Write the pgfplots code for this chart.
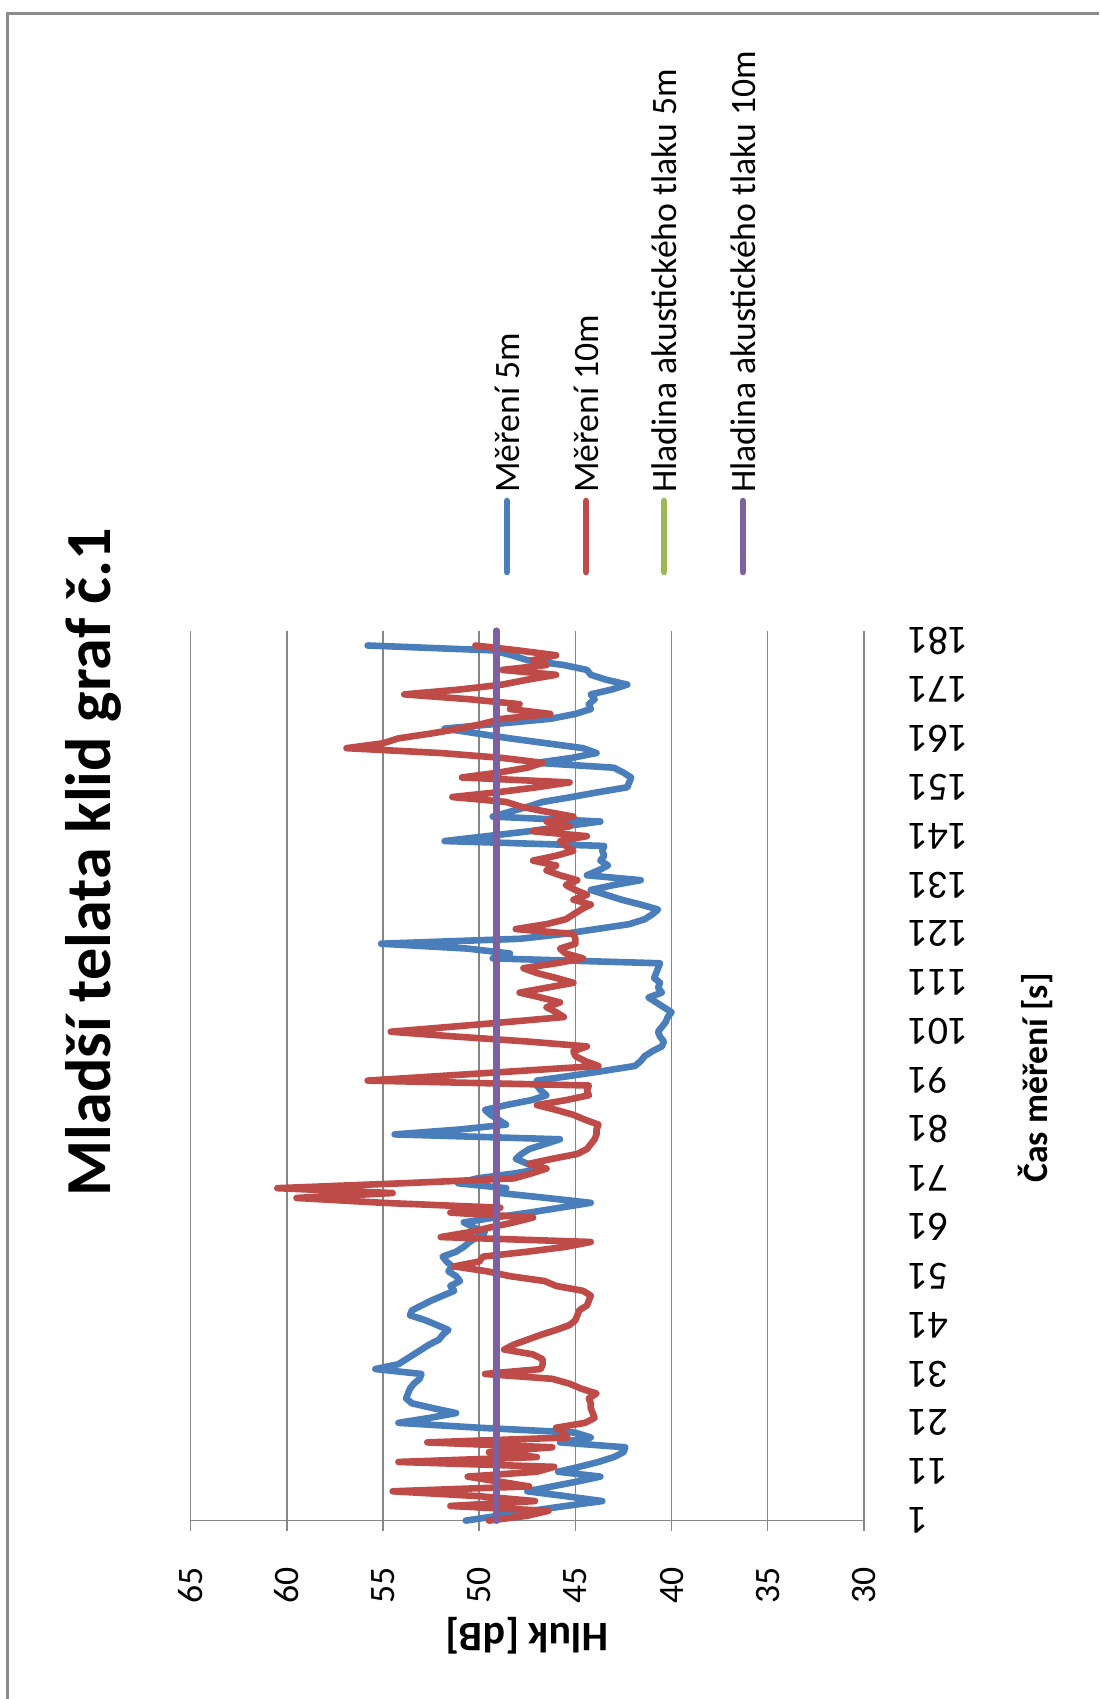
\documentclass[border=0pt]{standalone}
\usepackage{pgfplots}
\usepackage{pgfplotstable}
\pgfplotsset{compat=1.18}
\usepackage{fontspec}
\setmainfont{Carlito}

\definecolor{serA}{HTML}{4A7EBB}
\definecolor{serB}{HTML}{BE4B48}
\definecolor{serC}{HTML}{98B954}
\definecolor{serD}{HTML}{7D60A0}
\definecolor{gridgray}{HTML}{868686}
\definecolor{framegray}{HTML}{8C8C8C}

\newcommand\tenpt{\fontsize{17.85pt}{21pt}\selectfont}

% Měření 5m: time step, noise level [dB]
\pgfplotstableread{
t db
1 50.7
2 49.0
3 47.3
4 45.5
5 43.6
6 45.5
7 47.5
8 46.2
9 44.9
10 43.7
11 45.9
12 44.8
13 43.8
14 43.0
15 42.5
16 42.4
17 45.8
18 44.2
19 45.0
20 50.0
21 54.2
22 52.6
23 51.2
24 52.4
25 53.5
26 53.8
27 53.7
28 53.6
29 53.4
30 53.1
31 53.0
32 55.4
33 54.2
34 53.8
35 53.4
36 53.0
37 52.6
38 52.1
39 51.9
40 51.6
41 52.2
42 52.8
43 53.6
44 53.5
45 53.0
46 52.5
47 51.9
48 51.3
49 51.5
50 51.0
51 51.2
52 51.6
53 51.4
54 51.7
55 51.9
56 51.2
57 50.8
58 50.5
59 50.1
60 49.7
61 50.3
62 50.8
63 49.2
64 47.4
65 45.8
66 44.2
67 46.5
68 48.9
69 48.6
70 51.1
71 50.1
72 48.2
73 46.7
74 47.5
75 48.1
76 47.8
77 47.4
78 46.6
79 45.8
80 54.4
81 51.0
82 48.6
83 49.0
84 49.4
85 49.7
86 48.6
87 47.3
88 46.5
89 46.8
90 47.0
91 47.0
92 45.2
93 43.5
94 41.9
95 41.6
96 41.4
97 41.0
98 40.5
99 40.4
100 40.6
101 40.7
102 40.5
103 40.3
104 40.2
105 40.0
106 40.4
107 40.8
108 41.2
109 40.5
110 40.7
111 40.6
112 40.9
113 40.8
114 40.7
115 40.6
116 49.3
117 48.4
118 50.6
119 55.1
120 47.9
121 45.6
122 43.9
123 42.2
124 41.4
125 41.0
126 40.7
127 41.6
128 42.6
129 43.4
130 44.2
131 43.0
132 41.6
133 44.4
134 43.8
135 43.3
136 43.7
137 43.5
138 43.6
139 43.5
140 51.8
141 49.6
142 47.4
143 45.6
144 43.7
145 49.3
146 48.4
147 47.5
148 46.7
149 45.2
150 43.8
151 42.3
152 42.2
153 42.1
154 42.5
155 43.0
156 47.0
157 45.2
158 43.9
159 44.6
160 46.5
161 48.4
162 50.1
163 51.8
164 49.0
165 46.3
166 45.0
167 44.2
168 44.3
169 44.0
170 44.2
171 43.1
172 42.3
173 43.4
174 44.2
175 44.4
176 45.6
177 47.5
178 48.3
179 49.3
180 55.8
}\merenipet

% Měření 10m
\pgfplotstableread{
t db
1 49.5
2 47.5
3 46.4
4 51.5
5 47.1
6 50.0
7 54.5
8 47.4
9 49.0
10 50.6
11 47.0
12 46.1
13 54.2
14 47.0
15 49.5
16 46.2
17 52.7
18 45.4
19 45.6
20 46.0
21 44.5
22 44.0
23 44.1
24 44.2
25 44.2
26 44.3
27 43.9
28 44.7
29 45.3
30 46.2
31 49.7
32 46.8
33 46.7
34 46.7
35 47.2
36 48.7
37 48.2
38 47.5
39 46.8
40 46.0
41 45.3
42 45.0
43 44.9
44 44.8
45 44.4
46 44.3
47 44.2
48 44.6
49 46.0
50 46.6
51 48.4
52 49.6
53 51.3
54 50.0
55 49.8
56 47.5
57 45.5
58 44.2
59 52.0
60 50.5
61 49.4
62 48.2
63 47.2
64 51.5
65 48.9
66 55.0
67 59.5
68 54.5
69 60.5
70 54.0
71 48.2
72 47.3
73 46.5
74 47.4
75 46.2
76 44.9
77 44.4
78 44.2
79 44.0
80 43.9
81 43.9
82 43.8
83 44.5
84 45.1
85 46.0
86 47.0
87 45.5
88 44.3
89 44.4
90 44.3
91 55.8
92 51.8
93 47.8
94 43.8
95 44.5
96 45.0
97 45.1
98 44.4
99 47.5
100 51.2
101 54.6
102 51.5
103 48.5
104 45.6
105 46.0
106 46.5
107 45.8
108 46.8
109 47.9
110 46.5
111 45.1
112 46.0
113 47.0
114 47.7
115 46.0
116 44.6
117 45.5
118 45.8
119 45.0
120 45.0
121 45.1
122 48.1
123 46.5
124 45.5
125 45.1
126 44.7
127 44.2
128 45.1
129 44.4
130 45.0
131 45.5
132 44.9
133 45.8
134 46.5
135 46.0
136 47.2
137 46.0
138 45.1
139 45.5
140 45.8
141 44.4
142 47.2
143 45.3
144 46.5
145 45.1
146 46.5
147 47.8
148 48.6
149 51.4
150 49.0
151 47.0
152 45.3
153 50.9
154 49.0
155 47.5
156 46.7
157 48.8
158 52.0
159 56.9
160 55.0
161 54.2
162 52.5
163 51.0
164 49.8
165 48.8
166 46.3
167 48.4
168 47.9
169 50.5
170 53.9
171 51.0
172 48.8
173 47.5
174 46.0
175 48.8
176 46.5
177 47.2
178 46.0
179 48.0
180 50.2
}\merenideset

\begin{document}
\begin{tikzpicture}[x=0.5pt,y=-0.5pt]
\useasboundingbox (0,0) rectangle (1099,1699);
% chart area frame
\draw[framegray, line width=1.5pt] (7,1699) -- (7,13) -- (1099,13);

% title
\node[rotate=90, inner sep=0pt, font=\fontsize{32.1pt}{38pt}\selectfont\bfseries] at (93,862) {Mladší telata klid graf č.1};

% legend
\draw[serA, line width=3.3pt, line cap=round] (507,501) -- (507,572);
\node[rotate=90, anchor=west, inner sep=0pt, font=\tenpt] at (507,493) {Měření 5m};
\draw[serB, line width=3.3pt, line cap=round] (586,501) -- (586,572);
\node[rotate=90, anchor=west, inner sep=0pt, font=\tenpt] at (586,493) {Měření 10m};
\draw[serC, line width=3.3pt, line cap=round] (664,501) -- (664,572);
\node[rotate=90, anchor=west, inner sep=0pt, font=\tenpt] at (664,493) {Hladina akustického tlaku 5m};
\draw[serD, line width=3.3pt, line cap=round] (743,501) -- (743,572);
\node[rotate=90, anchor=west, inner sep=0pt, font=\tenpt] at (743,493) {Hladina akustického tlaku 10m};

% axis titles
\node[rotate=180, inner sep=0pt, font=\fontsize{21pt}{25pt}\selectfont\bfseries] at (527,1636) {Hluk [dB]};
\node[rotate=90, inner sep=0pt, font=\tenpt\bfseries] at (1035,1078) {Čas měření [s]};

% lower-left corner of the plot area
\coordinate (plotorigin) at (190.7,1520.6);

\begin{axis}[
  at={(plotorigin)}, anchor=south west,
  scale only axis, width=336.6pt, height=444.9pt,
  xmin=30, xmax=65, x dir=reverse,
  ymin=1, ymax=183,
  xtick={30,35,...,65}, ytick={1,11,...,181},
  xmajorgrids,
  grid style={gridgray, line width=0.75pt},
  axis line style={draw=none},
  tick align=outside, xtick pos=left, major tick length=5pt,
  xtick style={gridgray, line width=0.75pt},
  ytick style={draw=none},
  yticklabel pos=right,
  /pgf/number format/assume math mode=true,
  xticklabel style={rotate=90, anchor=east, inner sep=0pt, font=\tenpt},
  yticklabel style={rotate=180, anchor=east, inner sep=0pt, font=\fontsize{20pt}{24pt}\selectfont},
  xticklabel shift=18.2pt, yticklabel shift=16.8pt,
  clip=false,
  every axis plot/.append style={line width=3.3pt, line join=round, line cap=round, no markers},
]
\draw[gridgray, line width=0.75pt] (axis cs:65,1) -- (axis cs:30,1);
\addplot[serA] table[x=db, y=t] {\merenipet};
\addplot[serB] table[x=db, y=t] {\merenideset};
\addplot[serC] coordinates {(49.1,1) (49.1,183)};
\addplot[serD] coordinates {(49.1,1) (49.1,183)};
\end{axis}
\end{tikzpicture}
\end{document}
